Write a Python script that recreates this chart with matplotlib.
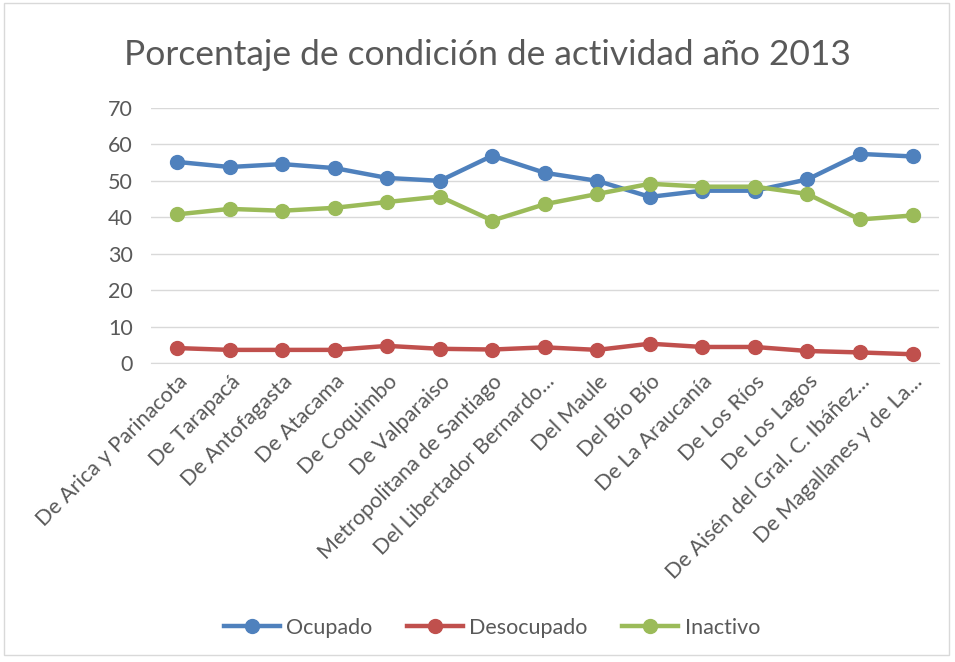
import numpy as np
import matplotlib.pyplot as plt
from matplotlib.patches import Rectangle

plt.rcParams['font.family'] = ['Lato', 'DejaVu Sans']

# Data
regiones = ['De Arica y Parinacota', 'De Tarapacá', 'De Antofagasta', 'De Atacama',
            'De Coquimbo', 'De Valparaiso', 'Metropolitana de Santiago',
            'Del Libertador Bernardo...', 'Del Maule', 'Del Bío Bío', 'De La Araucanía',
            'De Los Ríos', 'De Los Lagos', 'De Aisén del Gral. C. Ibáñez...',
            'De Magallanes y de La...']
ocupado = [55.2, 53.8, 54.6, 53.5, 50.8, 50.0, 56.9, 52.2, 50.0, 45.6, 47.3, 47.3, 50.4, 57.4, 56.7]
desocupado = [4.1, 3.6, 3.6, 3.6, 4.7, 3.9, 3.7, 4.3, 3.6, 5.3, 4.4, 4.4, 3.3, 2.9, 2.4]
inactivo = [40.8, 42.3, 41.8, 42.6, 44.2, 45.7, 39.1, 43.6, 46.4, 49.2, 48.4, 48.4, 46.4, 39.4, 40.5]

text_color = '#595959'

fig = plt.figure(figsize=(9.55, 6.62), dpi=100)
ax = fig.add_axes([0.158, 1 - 363 / 662, 0.983 - 0.158, (363 - 108) / 662])

x = np.arange(len(regiones))
series = [('Ocupado', ocupado, '#4F81BD'),
          ('Desocupado', desocupado, '#C0504D'),
          ('Inactivo', inactivo, '#9BBB59')]
for name, vals, col in series:
    ax.plot(x, vals, color=col, lw=3.2, marker='o', ms=10, label=name, zorder=3)

ax.set_xlim(-0.5, len(regiones) - 0.5)
ax.set_ylim(0, 70)
ax.set_yticks(range(0, 71, 10))
ax.grid(axis='y', color='#D9D9D9', lw=1)
ax.set_axisbelow(True)
for s in ['top', 'right', 'left']:
    ax.spines[s].set_visible(False)
ax.spines['bottom'].set_color('#D9D9D9')
ax.tick_params(axis='both', length=0, colors=text_color, labelsize=15.5)
ax.tick_params(axis='y', pad=13)
ax.set_xticks(x)
ax.set_xticklabels(regiones, rotation=45, ha='right', rotation_mode='anchor', fontsize=15.5)
ax.tick_params(axis='x', pad=6)

fig.text(0.51, 1 - 55 / 662, 'Porcentaje de condición de actividad año 2013',
         ha='center', va='center', fontsize=25.5, color=text_color)

leg = fig.legend(loc='center', bbox_to_anchor=(0.515, 1 - 628 / 662), ncol=3,
                 frameon=False, fontsize=15.5, handlelength=2.6, columnspacing=1.6,
                 handletextpad=0.3)
for t in leg.get_texts():
    t.set_color(text_color)

fig.patches.append(Rectangle((0.004, 0.01), 0.99, 0.985, transform=fig.transFigure,
                             fill=False, edgecolor='#D9D9D9', lw=1))

fig.savefig('out.png', dpi=100)
